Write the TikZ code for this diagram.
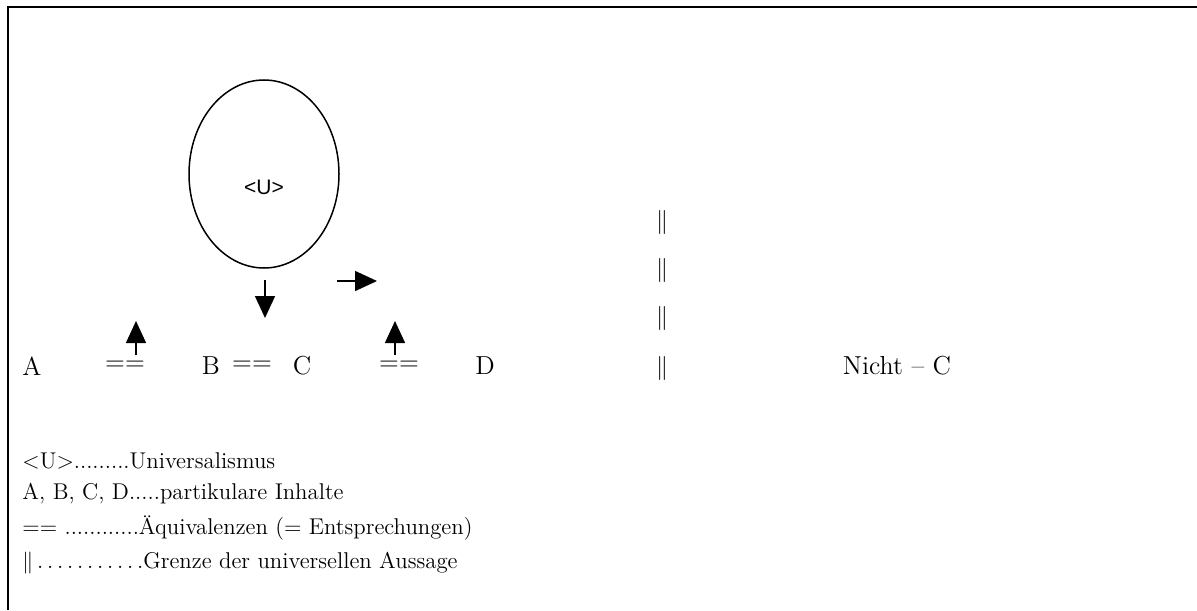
\documentclass[tikz,border=0pt]{standalone}
\usepackage{fontspec}
\newfontfamily\ufont{Liberation Sans}
\usetikzlibrary{arrows.meta,shapes.geometric,positioning}

\tikzset{
	lbl/.style={inner sep=0pt, font=\fontsize{13}{15}\selectfont},
	legend/.style={inner sep=0pt, anchor=west, font=\fontsize{11.4}{13}\selectfont},
	arr/.style={line width=0.75pt, -{Triangle[length=11pt,width=10pt]}},
	bar/.style={inner sep=0pt, font=\fontsize{12.5}{14}\selectfont}
}

\begin{document}
\begin{tikzpicture}[x=0.5pt,y=-0.5pt]
		\useasboundingbox (0,0) rectangle (1197,610);
		% frame
		\draw[line width=1pt] (8,610) -- (8,7) -- (1197,7);

		% universalism
		\node (ell) [ellipse, draw, line width=0.75pt, minimum width=75pt, minimum height=94pt, inner sep=0pt] at (264,174) {};
		\node (u) [inner sep=0pt, font=\ufont\fontsize{10.5}{12}\selectfont] at (264,187) {<U>};

		% particular contents
		\node (a) [lbl] at (32,366) {A};
		\node (eq1) [lbl] at (125,366) {==};
		\node (b) [lbl] at (211,366) {B};
		\node (eq2) [lbl] at (252,366) {==};
		\node (c) [lbl] at (302,366) {C};
		\node (eq3) [lbl] at (399,366) {==};
		\node (d) [lbl] at (485,366) {D};
		\node (nc) [lbl] at (897,366) {Nicht -- C};

		% border
		\foreach \y/\n in {222/1,270/2,318/3,368/4}
			\node (bar\n) [bar] at (662,\y) {$\|$};

		% arrows
		\coordinate (dn1) at (265,280);
		\coordinate (dn2) at (265,318);
		\coordinate (rt1) at (337,281);
		\coordinate (rt2) at (377,281);
		\coordinate (up1a) at (136,355);
		\coordinate (up1) at (136,321);
		\coordinate (up2a) at (395,355);
		\coordinate (up2) at (395,321);
		\draw[arr] (dn1) -- (dn2);
		\draw[arr] (rt1) -- (rt2);
		\draw[arr] (up1a) -- (up1);
		\draw[arr] (up2a) -- (up2);

		% legend
		\node (l1) [legend] at (22,461) {<U>.........Universalismus};
		\node (l2) [legend] at (22,494) {A, B, C, D.....partikulare Inhalte};
		\node (l3) [legend] at (22,528) {== ............Äquivalenzen (= Entsprechungen)};
		\node (l4) [legend] at (22,563) {$\|$\,.\,.\,.\,.\,.\,.\,.\,.\,.\,.\,.Grenze der universellen Aussage};
	\end{tikzpicture}
\end{document}
